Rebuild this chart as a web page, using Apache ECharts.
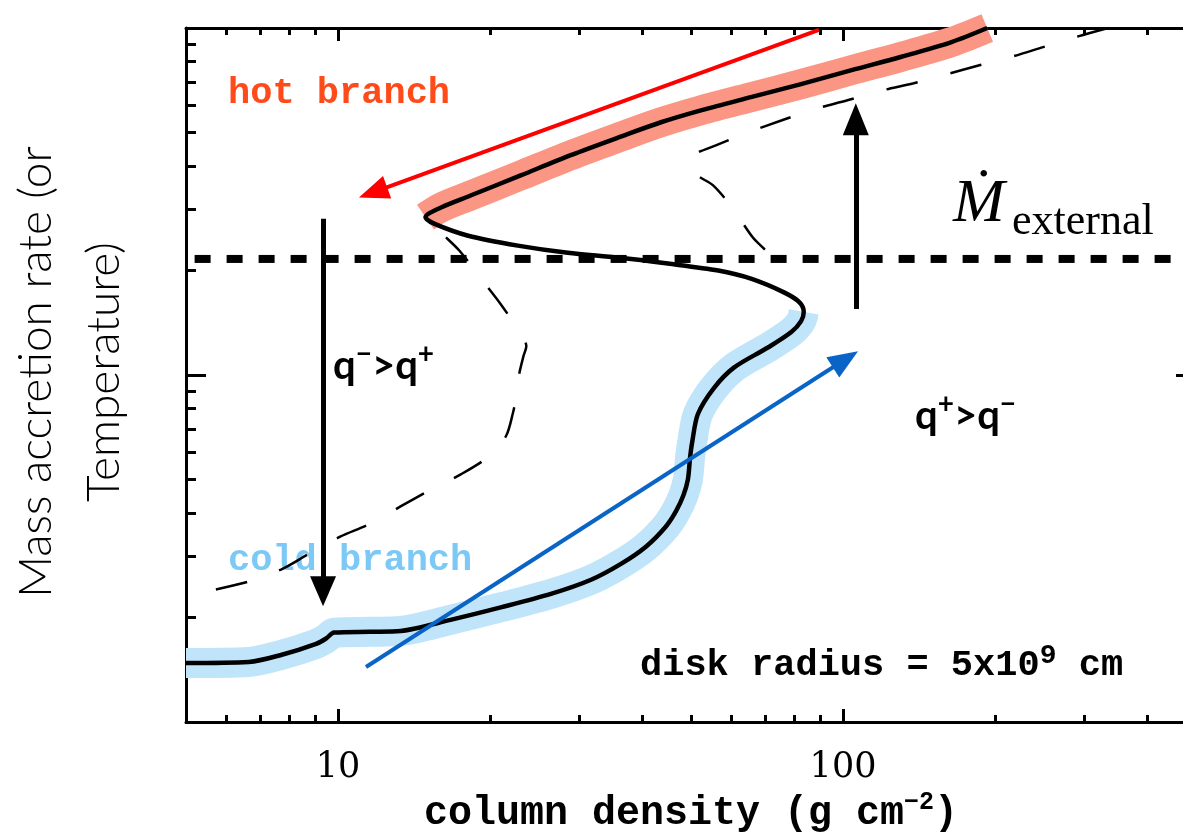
<!DOCTYPE html>
<html><head><meta charset="utf-8">
<script src="https://cdn.jsdelivr.net/npm/echarts@6/dist/echarts.min.js"></script>
<style>html,body{margin:0;padding:0;background:#fff}#chart{width:1183px;height:835px}</style>
</head><body><div id="chart"></div>
<script>
// ---- data (x: column density g/cm^2, y: relative accretion rate) ----
const xMajorTicks = [10, 100];
const xMinorTicks = [6, 7, 8, 9, 20, 30, 40, 50, 60, 70, 80, 90, 200, 300, 400];
const yMajorTicks = [10];
const yMinorTicks = [2, 3, 4, 5, 6, 7, 8, 9, 20, 30, 40, 50, 60, 70, 80, 90];

const sCurve = [
  [5.0,1.48],[6.66,1.49],[7.71,1.56],[9.05,1.68],[9.47,1.74],[9.82,1.81],[11.6,1.82],[13.3,1.83],
  [16.7,1.97],[21.0,2.14],[26.4,2.34],[31.7,2.57],[36.4,2.86],[40.7,3.20],[44.6,3.66],[46.7,4.05],
  [48.3,4.5],[49.3,5.0],[49.8,5.8],[50.3,6.44],[51.6,7.72],[55.5,9.17],[60.8,10.5],[71.0,12.0],
  [79.0,13.3],[82.6,14.3],[83.6,15.2],[82.0,16.2],[76.4,17.3],[65.7,18.95],[56.6,20.0],[45.0,20.95],
  [35.9,21.8],[28.5,22.5],[22.7,23.6],[18.1,25.2],[15.5,27.3],[14.9,28.5],[16.0,30.4],[18.3,32.9],
  [23.0,37.6],[28.9,43.0],[36.4,48.7],[43.6,53.5],[52.3,57.9],[65.7,63.2],[82.6,68.9],[104,75.6],
  [130,82.5],[164,91.1],[193,100]
];
const coldBranch = sCurve.slice(0, 27);
const hotBranch = sCurve.slice(37);

const dashedLeft = [
  [5.73,2.41],[6.66,2.54],[7.71,2.75],[8.72,3.04],[10.1,3.42],[11.5,3.71],[13.3,4.18],[15.3,4.68],
  [17.5,5.17],[19.9,5.83],[21.5,6.66],[22.2,7.77],[22.5,8.58],[22.8,9.93],[23.3,11.35],[23.6,12.1],
  [22.8,13.4],[21.0,16.0],[19.2,18.95],[17.4,22.8],[16.0,25.7],[15.5,27.0]
];
const dashedRight = [
  [335,100],[289,94.2],[249,88.1],[215,82.5],[187,78.2],[161,73.7],[138,69.3],[118,65.8],[102,61.9],
  [87.6,58.3],[75.7,54.2],[65.1,50.1],[56.0,45.9],[50.5,43.0],[49.6,40.5],[51.5,37.6],[55.3,35.2],
  [60.3,30.4],[66.3,24.9],[70.4,22.8],[74,20.8],[77,19.6]
];
const mdotExternal = [[5.2,21.6],[500,21.6]];

const arrowDown = [[9.34,28.2],[9.34,2.38]];
const arrowUp = [[106,15.5],[106,54.6]];
const arrowRed = [[89.6,98.7],[11.73,33.6]];
const arrowBlue = [[11.36,1.44],[101.1,11.1]];

// ---- chart ----
const MONO = 'Liberation Mono, DejaVu Sans Mono, monospace';
const chart = echarts.init(document.getElementById('chart'), null, {renderer: 'canvas'});

function xAx(position, ticks, len, labels) {
  return {
    type: 'log', min: 5, max: 500, position: position, gridIndex: 0,
    axisLine: {show: labels !== null, lineStyle: {color: '#000', width: 3}},
    axisTick: {show: true, inside: true, length: len, customValues: ticks, lineStyle: {color: '#000', width: 3}},
    axisLabel: labels ? {show: true, customValues: labels, margin: 28, color: '#000', fontSize: 35,
      fontFamily: 'DejaVu Serif, serif', formatter: v => String(v)} : {show: false},
    splitLine: {show: false}, minorTick: {show: false}
  };
}
function yAx(position, ticks, len, showLine) {
  return {
    type: 'log', min: 1, max: 100, position: position, gridIndex: 0,
    axisLine: {show: showLine, lineStyle: {color: '#000', width: 3}},
    axisTick: {show: true, inside: true, length: len, customValues: ticks, lineStyle: {color: '#000', width: 3}},
    axisLabel: {show: false}, splitLine: {show: false}
  };
}

const xBottom = xAx('bottom', xMajorTicks, 13, xMajorTicks);
xBottom.name = 'column density (g cm{sup|−2})';
xBottom.nameLocation = 'middle';
xBottom.nameGap = 56;
xBottom.nameTextStyle = {color: '#000', fontSize: 40, fontFamily: MONO, fontWeight: 'bold', lineHeight: 48,
  rich: {sup: {fontSize: 25, lineHeight: 25, fontFamily: MONO, fontWeight: 'bold', verticalAlign: 'top', color: '#000'}}};

const supStyle = (font) => ({fontSize: 28, lineHeight: 28, fontFamily: font, fontWeight: 'bold', verticalAlign: 'top', fill: '#000'});

const option = {
  animation: false,
  backgroundColor: '#fff',
  grid: {left: 186, top: 28, width: 1010, height: 694, containLabel: false, outerBoundsMode: 'none'},
  xAxis: [
    xBottom,
    xAx('bottom', xMinorTicks, 7, null),
    xAx('top', xMajorTicks, 13, false),
    xAx('top', xMinorTicks, 7, null)
  ],
  yAxis: [
    yAx('left', yMajorTicks, 20, true),
    yAx('left', yMinorTicks, 10, false),
    yAx('right', yMajorTicks, 20, true),
    yAx('right', yMinorTicks, 10, false)
  ],
  series: [
    {type: 'line', data: hotBranch, smooth: 0.3, symbol: 'none', clip: false, z: 1,
     lineStyle: {color: '#FA9683', width: 30, cap: 'butt', join: 'round'}},
    {type: 'line', data: coldBranch, smooth: 0.3, symbol: 'none', clip: false, z: 1,
     lineStyle: {color: '#C0E4FA', width: 30, cap: 'butt', join: 'round'}},
    {type: 'line', data: mdotExternal, symbol: 'none', z: 2,
     lineStyle: {color: '#000', width: 8, type: [16, 16], cap: 'butt'}},
    {type: 'line', data: dashedLeft, smooth: 0.3, symbol: 'none', z: 2,
     lineStyle: {color: '#000', width: 2.5, type: [32, 34]}},
    {type: 'line', data: dashedRight, smooth: 0.3, symbol: 'none', z: 2,
     lineStyle: {color: '#000', width: 2.5, type: [32, 34]}},
    {type: 'line', data: sCurve, smooth: 0.3, symbol: 'none', z: 3,
     lineStyle: {color: '#000', width: 4.5, join: 'round'}},
    {type: 'line', data: [], z: 4,
     markLine: {
       silent: true, animation: false, symbol: ['none', 'triangle'], label: {show: false},
       emphasis: {disabled: true},
       data: [
         [{coord: arrowDown[0], lineStyle: {color: '#000', width: 5, type: 'solid'}},
          {coord: arrowDown[1], symbolSize: [26, 30], itemStyle: {color: '#000'}}],
         [{coord: arrowUp[0], lineStyle: {color: '#000', width: 5, type: 'solid'}},
          {coord: arrowUp[1], symbolSize: [26, 32], itemStyle: {color: '#000'}}],
         [{coord: arrowRed[0], lineStyle: {color: '#FF0000', width: 4, type: 'solid'}},
          {coord: arrowRed[1], symbolSize: [24, 30], itemStyle: {color: '#FF0000'}}],
         [{coord: arrowBlue[0], lineStyle: {color: '#0A64C8', width: 4, type: 'solid'}},
          {coord: arrowBlue[1], symbolSize: [24, 30], itemStyle: {color: '#0A64C8'}}]
       ]
     }}
  ],
  graphic: [
    {type: 'text', x: 70, y: 372, rotation: Math.PI / 2, silent: true,
     style: {text: 'Mass accretion rate (or\nTemperature)', fill: '#000', fontSize: 46,
       fontFamily: 'Lato, Open Sans, sans-serif', fontWeight: 300, lineHeight: 68,
       align: 'center', verticalAlign: 'middle'}},
    {type: 'text', x: 228, y: 94, silent: true,
     style: {text: 'hot branch', fill: '#FF4A1A', fontSize: 37, fontFamily: MONO, fontWeight: 'bold',
       align: 'left', verticalAlign: 'middle'}},
    {type: 'text', x: 228, y: 561, silent: true,
     style: {text: 'cold branch', fill: '#7CC9F5', fontSize: 37, fontFamily: MONO, fontWeight: 'bold',
       align: 'left', verticalAlign: 'middle'}},
    {type: 'text', x: 333, y: 366, silent: true,
     style: {text: 'q{sup|−}>q{sup|+}', fill: '#000', fontSize: 40, lineHeight: 52, fontFamily: 'Lato, sans-serif',
       fontWeight: 'bold', align: 'left', verticalAlign: 'middle',
       rich: {sup: supStyle('Lato, sans-serif')}}},
    {type: 'text', x: 915, y: 416, silent: true,
     style: {text: 'q{sup|+}>q{sup|−}', fill: '#000', fontSize: 40, lineHeight: 52, fontFamily: 'Lato, sans-serif',
       fontWeight: 'bold', align: 'left', verticalAlign: 'middle',
       rich: {sup: supStyle('Lato, sans-serif')}}},
    {type: 'text', x: 640, y: 666, silent: true,
     style: {text: 'disk radius = 5x10{sup|9} cm', fill: '#000', fontSize: 37, lineHeight: 48, fontFamily: MONO,
       fontWeight: 'bold', align: 'left', verticalAlign: 'middle',
       rich: {sup: supStyle(MONO)}}},
    {type: 'text', x: 953, y: 205, silent: true,
     style: {text: 'Ṁ', fill: '#000', fontSize: 62, fontStyle: 'italic',
       fontFamily: 'Liberation Serif, DejaVu Serif, serif', align: 'left', verticalAlign: 'middle'}},
    {type: 'text', x: 1012, y: 222, silent: true,
     style: {text: 'external', fill: '#000', fontSize: 44,
       fontFamily: 'Liberation Serif, DejaVu Serif, serif', align: 'left', verticalAlign: 'middle'}}
  ]
};
chart.setOption(option);
</script>
</body></html>
